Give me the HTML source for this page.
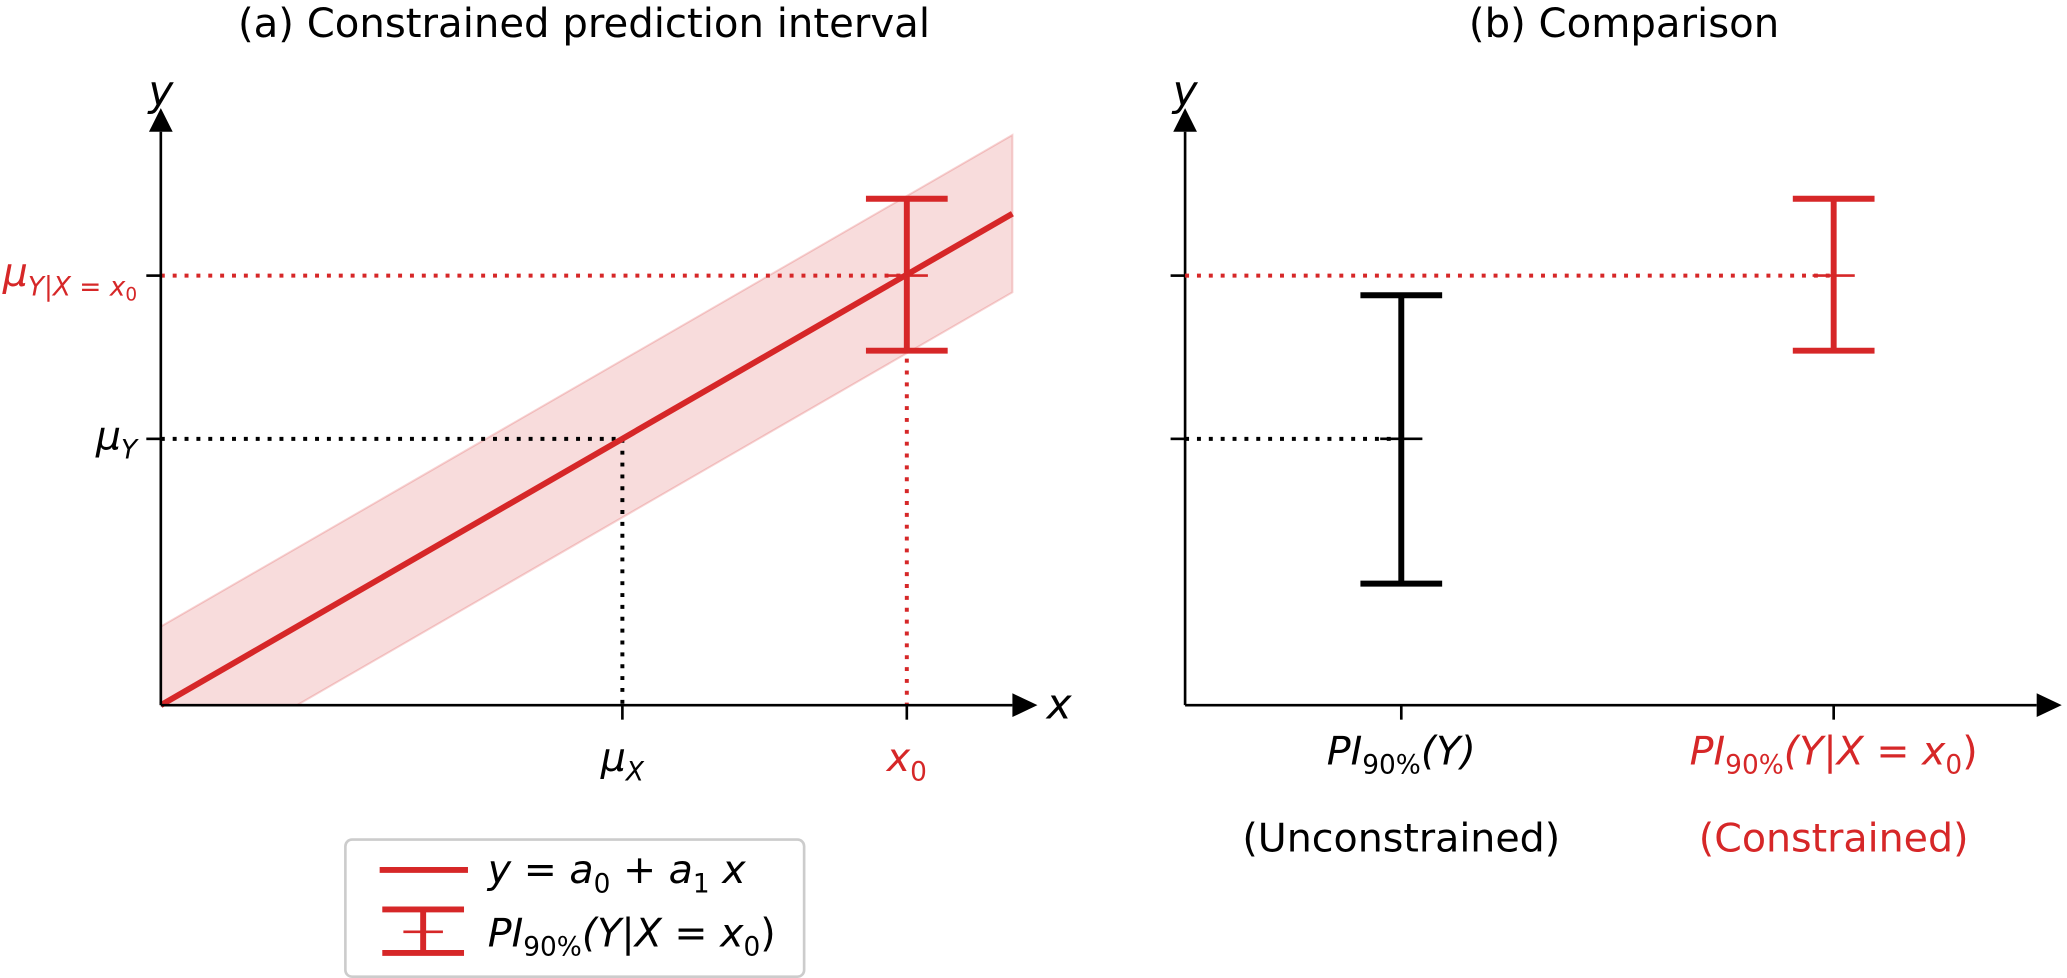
<!DOCTYPE html>
<html><head><meta charset="utf-8"><style>
html,body{margin:0;padding:0;background:#fff;}
svg{display:block;font-family:"DejaVu Sans","Liberation Sans",sans-serif;}
.m{font-style:italic;}
</style></head><body>
<svg id="fig" width="2067" height="978" viewBox="0 0 1568 742" preserveAspectRatio="none">
<g id="pa"></g>
<g id="pb"></g>
</svg>
<script>
const lineIntercept = [0.0];
const lineSlope = [0.825];
const bandHalfWidth = [0.132];
const muX = [0.542];
const x0 = [0.876];
const muY = [0.447];
const piConstrained = [0.721, 0.85, 0.595]; // center, upper, lower
const piUnconstrained = [0.447, 0.688, 0.204]; // center, upper, lower
const catsB = ["PI(Y)", "PI(Y|X=x0)"];
const catPosB = [0.25, 0.75];

const NS = "http://www.w3.org/2000/svg";
const RED = "#d62728";
function el(parent, tag, attrs, text){
  const e = document.createElementNS(NS, tag);
  for (const k in attrs) e.setAttribute(k, attrs[k]);
  if (text !== undefined) e.innerHTML = text;
  parent.appendChild(e);
  return e;
}
const A = {x0:122, x1:768};
const ax = v => A.x0 + v*(A.x1-A.x0);
const ay = v => 535 - v*452;
const B = {x0:899, x1:1555};
const bx = v => B.x0 + v*(B.x1-B.x0);
const FS = 30;

const pa = document.getElementById('pa');
const pb = document.getElementById('pb');

let t = el(pa,'text',{x:443,y:28,'font-size':30.5,'text-anchor':'middle'},'(a) Constrained prediction interval');



const f = x => lineIntercept[0] + lineSlope[0]*x;
const bh = bandHalfWidth[0];
const xl = (0 - lineIntercept[0] + bh)/lineSlope[0];
let band = el(pa,'polygon',{points:
  `${ax(0)},${ay(f(0)+bh)} ${ax(1)},${ay(f(1)+bh)} ${ax(1)},${ay(f(1)-bh)} ${ax(xl)},${ay(0)} ${ax(0)},${ay(0)}`,
  fill:RED,'fill-opacity':0.16,stroke:RED,'stroke-opacity':0.2,'stroke-width':1.5});



function dotted(p,x1,y1,x2,y2,c,name){
  const l = el(p,'line',{x1,y1,x2,y2,stroke:c,'stroke-width':3,'stroke-dasharray':'3 6'});
  
  
}
dotted(pa,ax(0),ay(muY[0]),ax(muX[0]),ay(muY[0]),'#000','mu-y-guide');
dotted(pa,ax(muX[0]),ay(muY[0]),ax(muX[0]),ay(0),'#000','mu-x-guide');
dotted(pa,ax(0),ay(piConstrained[0]),ax(x0[0]),ay(piConstrained[0]),RED,'mu-y-given-x-guide');
dotted(pa,ax(x0[0]),ay(piConstrained[0]),ax(x0[0]),ay(0),RED,'x0-guide');

let rl = el(pa,'line',{x1:ax(0),y1:ay(f(0)),x2:ax(1),y2:ay(f(1)),stroke:RED,'stroke-width':4.5});



function errbar(p,x,c,u,l,col,name){
  const g = el(p,'g',{});
  
  
  el(g,'line',{x1:x,y1:u,x2:x,y2:l,stroke:col,'stroke-width':4.5});
  el(g,'line',{x1:x-31,y1:u,x2:x+31,y2:u,stroke:col,'stroke-width':4.5});
  el(g,'line',{x1:x-31,y1:l,x2:x+31,y2:l,stroke:col,'stroke-width':4.5});
  el(g,'line',{x1:x-16,y1:c,x2:x+16,y2:c,stroke:col,'stroke-width':2});
}
errbar(pa,ax(x0[0]),ay(piConstrained[0]),ay(piConstrained[1]),ay(piConstrained[2]),RED,'constrained-errorbar');

function axes(p,X0,X1,name){
  const g = el(p,'g',{});
  
  
  el(g,'line',{x1:X0,y1:535,x2:X1,y2:535,stroke:'#000','stroke-width':2});
  el(g,'line',{x1:X0,y1:535,x2:X0,y2:100,stroke:'#000','stroke-width':2});
  el(g,'polygon',{points:`${X1},526 ${X1+19},535 ${X1},544`,fill:'#000'});
  el(g,'polygon',{points:`${X0-9},100 ${X0},82 ${X0+9},100`,fill:'#000'});
  el(g,'text',{x:X1+26,y:545,'font-size':32,'font-style':'italic','text-anchor':'start'},'x');
  el(g,'text',{x:X0,y:80,'font-size':32,'font-style':'italic','text-anchor':'middle'},'y');
  el(g,'line',{x1:X0-11,y1:ay(piConstrained[0]),x2:X0,y2:ay(piConstrained[0]),stroke:'#000','stroke-width':2});
  el(g,'line',{x1:X0-11,y1:ay(muY[0]),x2:X0,y2:ay(muY[0]),stroke:'#000','stroke-width':2});
  return g;
}
const ga = axes(pa,A.x0,A.x1,'panel-a-axes');
el(ga,'line',{x1:ax(muX[0]),y1:535,x2:ax(muX[0]),y2:546,stroke:'#000','stroke-width':2});
el(ga,'line',{x1:ax(x0[0]),y1:535,x2:ax(x0[0]),y2:546,stroke:'#000','stroke-width':2});
el(ga,'text',{x:ax(muX[0]),y:585,'font-size':FS,'text-anchor':'middle',class:'m'},'μ<tspan font-size="20" dy="7">X</tspan>');
el(ga,'text',{x:ax(x0[0]),y:585,'font-size':FS,'text-anchor':'middle',fill:RED,class:'m'},'x<tspan font-size="20" dy="7" font-style="normal">0</tspan>');
el(ga,'text',{x:104,y:ay(muY[0])+8,'font-size':FS,'text-anchor':'end',class:'m'},'μ<tspan font-size="20" dy="7">Y</tspan>');
el(ga,'text',{x:104,y:ay(piConstrained[0])+8,'font-size':FS,'text-anchor':'end',fill:RED,class:'m'},'μ<tspan font-size="20" dy="7">Y|X = x<tspan font-style="normal" font-size="14" dy="4">0</tspan></tspan>');

const lg = el(pa,'g',{});


el(lg,'rect',{x:262,y:637,width:348,height:104,rx:5,fill:'#fff',stroke:'#ccc','stroke-width':2});
el(lg,'line',{x1:288,y1:660,x2:355,y2:660,stroke:RED,'stroke-width':4.5});
el(lg,'text',{x:370,y:670,'font-size':FS,class:'m'},'y = a<tspan font-size="20" dy="7" font-style="normal">0</tspan><tspan dy="-7"> + a</tspan><tspan font-size="20" dy="7" font-style="normal">1</tspan><tspan dy="-7"> x</tspan>');
el(lg,'line',{x1:290,y1:690,x2:352,y2:690,stroke:RED,'stroke-width':4.5});
el(lg,'line',{x1:290,y1:723,x2:352,y2:723,stroke:RED,'stroke-width':4.5});
el(lg,'line',{x1:321,y1:690,x2:321,y2:723,stroke:RED,'stroke-width':4.5});
el(lg,'line',{x1:306,y1:707,x2:336,y2:707,stroke:RED,'stroke-width':2});
el(lg,'text',{x:370,y:718,'font-size':FS,class:'m'},'PI<tspan font-size="20" dy="7" font-style="normal">90%</tspan><tspan dy="-7">(Y|X = x</tspan><tspan font-size="20" dy="7" font-style="normal">0</tspan><tspan dy="-7" font-style="normal">)</tspan>');

t = el(pb,'text',{x:1232,y:28,'font-size':30.5,'text-anchor':'middle'},'(b) Comparison');


const gb = axes(pb,B.x0,B.x1-10,'panel-b-axes');
dotted(pb,bx(0),ay(piConstrained[0]),bx(catPosB[1]),ay(piConstrained[0]),RED,'constrained-center-guide');
dotted(pb,bx(0),ay(piUnconstrained[0]),bx(catPosB[0]),ay(piUnconstrained[0]),'#000','unconstrained-center-guide');
errbar(pb,bx(catPosB[0]),ay(piUnconstrained[0]),ay(piUnconstrained[1]),ay(piUnconstrained[2]),'#000','unconstrained-errorbar');
errbar(pb,bx(catPosB[1]),ay(piConstrained[0]),ay(piConstrained[1]),ay(piConstrained[2]),RED,'constrained-errorbar-b');
catPosB.forEach((c,i)=>{
  el(gb,'line',{x1:bx(c),y1:535,x2:bx(c),y2:546,stroke:'#000','stroke-width':2});
});
el(gb,'text',{x:bx(catPosB[0]),y:580,'font-size':FS,'text-anchor':'middle',class:'m'},'PI<tspan font-size="20" dy="7" font-style="normal">90%</tspan><tspan dy="-7">(Y)</tspan>');
el(gb,'text',{x:bx(catPosB[0]),y:646,'font-size':FS,'text-anchor':'middle'},'(Unconstrained)');
el(gb,'text',{x:bx(catPosB[1]),y:580,'font-size':FS,'text-anchor':'middle',fill:RED,class:'m'},'PI<tspan font-size="20" dy="7" font-style="normal">90%</tspan><tspan dy="-7">(Y|X = x</tspan><tspan font-size="20" dy="7" font-style="normal">0</tspan><tspan dy="-7" font-style="normal">)</tspan>');
el(gb,'text',{x:bx(catPosB[1]),y:646,'font-size':FS,'text-anchor':'middle',fill:RED},'(Constrained)');
</script>
</body></html>
